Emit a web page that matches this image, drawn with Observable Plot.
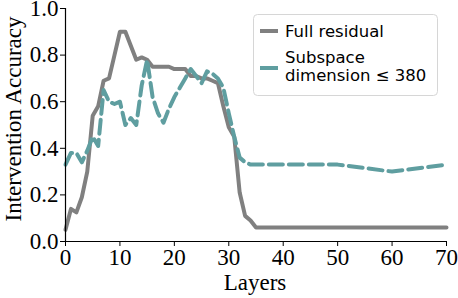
<!DOCTYPE html>
<html>
<head>
<meta charset="utf-8">
<script src="https://cdn.jsdelivr.net/npm/d3@7"></script>
<script src="https://cdn.jsdelivr.net/npm/@observablehq/plot@0.6"></script>
<style>
  html, body { margin: 0; padding: 0; background: #fff; }
  #chart { position: relative; width: 458px; height: 298px; }
</style>
</head>
<body>
<div id="chart"></div>
<script>
const fullLayers = [0,1,2,3,4,5,6,7,8,9,10,11,12,13,14,15,16,17,18,19,20,21,22,23,24,25,26,27,28,29,30,31,32,33,34,35,40,50,60,70];
const fullValues = [0.05,0.14,0.125,0.19,0.30,0.54,0.58,0.69,0.70,0.80,0.90,0.90,0.84,0.78,0.79,0.78,0.75,0.75,0.75,0.75,0.74,0.74,0.74,0.71,0.71,0.70,0.70,0.69,0.68,0.58,0.49,0.45,0.21,0.11,0.09,0.06,0.06,0.06,0.06,0.06];

const subLayers = [0,1,2,3,4,5,6,7,8,9,10,11,12,13,14,15,16,17,18,19,20,21,22,23,24,25,26,27,28,29,30,31,32,33,34,40,50,60,70];
const subValues = [0.33,0.38,0.38,0.34,0.39,0.45,0.41,0.65,0.60,0.59,0.60,0.50,0.53,0.50,0.67,0.78,0.62,0.55,0.51,0.57,0.62,0.66,0.70,0.74,0.71,0.68,0.73,0.72,0.70,0.66,0.55,0.45,0.36,0.34,0.33,0.33,0.33,0.30,0.33];

const seriesNames = ["Full residual", "Subspace dimension \u2264 380"];
const seriesColors = ["#808080", "#5f9ea0"];
const xTicks = [0,10,20,30,40,50,60,70];
const yTicks = [0,0.2,0.4,0.6,0.8,1.0];
const xLabel = "Layers";
const yLabel = "Intervention Accuracy";

const full = fullLayers.map((l,i) => ({layer: l, acc: fullValues[i]}));
const sub = subLayers.map((l,i) => ({layer: l, acc: subValues[i]}));

const serif = "'Liberation Serif', 'Times New Roman', serif";

const plot = Plot.plot({
  width: 458,
  height: 298,
  marginLeft: 65,
  marginRight: 12,
  marginTop: 8,
  marginBottom: 57,
  style: {fontFamily: serif, fontSize: "23px", color: "#000", background: "#fff"},
  x: {domain: [0,70], ticks: xTicks, tickSize: 5, tickPadding: 2, label: null},
  y: {domain: [0,1], ticks: yTicks, tickSize: 5, tickPadding: 2, tickFormat: d3.format(".1f"), label: null},
  marks: [
    Plot.line(full, {x: "layer", y: "acc", stroke: seriesColors[0], strokeWidth: 4, strokeLinejoin: "round"}),
    Plot.line(sub, {x: "layer", y: "acc", stroke: seriesColors[1], strokeWidth: 4, strokeDasharray: "14,6", strokeLinejoin: "round"}),
    Plot.ruleX([0], {stroke: "#000", strokeWidth: 1.2}),
    Plot.ruleY([0], {stroke: "#000", strokeWidth: 1.2})
  ]
});
document.getElementById("chart").appendChild(plot);

const svg = d3.select(plot);
// Axis titles
svg.append("text").attr("x", 255).attr("y", 290).attr("text-anchor", "middle")
  .attr("font-family", serif).attr("font-size", "23px").attr("fill", "#000").text(xLabel);
svg.append("text").attr("transform", "translate(21,119) rotate(-90)").attr("text-anchor", "middle")
  .attr("font-family", serif).attr("font-size", "23px").attr("fill", "#000").text(yLabel);

// Legend inside the plot area (upper right)
const lg = svg.append("g").attr("font-family", "'DejaVu Sans', sans-serif").attr("font-size", "16.5px").attr("text-anchor", "start");
lg.append("rect").attr("x", 253.5).attr("y", 14.5).attr("width", 184).attr("height", 81)
  .attr("rx", 4).attr("fill", "#fff").attr("fill-opacity", 0.8).attr("stroke", "#d6d6d6");
lg.append("line").attr("x1", 260).attr("x2", 278).attr("y1", 31).attr("y2", 31)
  .attr("stroke", seriesColors[0]).attr("stroke-width", 4);
lg.append("line").attr("x1", 260).attr("x2", 278).attr("y1", 68).attr("y2", 68)
  .attr("stroke", seriesColors[1]).attr("stroke-width", 4);
lg.append("text").attr("x", 285).attr("y", 31).attr("dy", "0.35em").text(seriesNames[0]);
const t2 = lg.append("text").attr("x", 285).attr("y", 57).attr("dy", "0.35em");
t2.append("tspan").attr("x", 285).text("Subspace");
t2.append("tspan").attr("x", 285).attr("dy", "1.12em").text("dimension \u2264 380");
</script>
</body>
</html>
